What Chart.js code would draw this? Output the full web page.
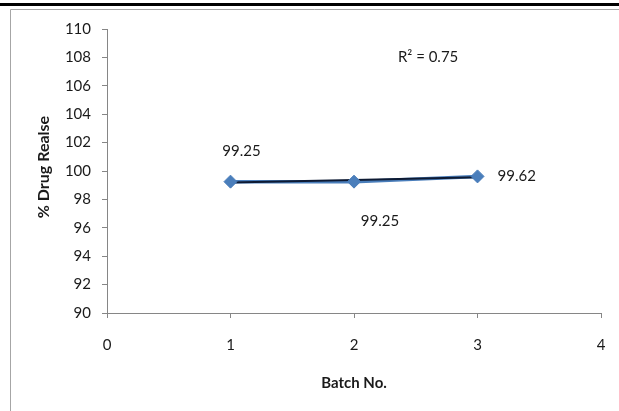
<!DOCTYPE html>
<html>
<head>
<meta charset="utf-8">
<script src="https://cdn.jsdelivr.net/npm/chart.js@4/dist/chart.umd.min.js"></script>
<style>
  html, body { margin: 0; padding: 0; background: #fff; }
  #wrap { position: relative; width: 619px; height: 411px; }
</style>
</head>
<body>
<div id="wrap"><canvas id="c" width="619" height="411"></canvas></div>
<script>
const batches = [1, 2, 3];
const releaseValues = [99.25, 99.25, 99.62];
const trendValues = [99.19, 99.37, 99.56];
const xTicks = [0, 1, 2, 3, 4];
const yTicks = [90, 92, 94, 96, 98, 100, 102, 104, 106, 108, 110];
const r2Text = 'R² = 0.75';
const xTitle = 'Batch No.';
const yTitle = '% Drug Realse';

const FONT = 'Lato, "Open Sans", sans-serif';
const pts = batches.map((b, i) => ({ x: b, y: releaseValues[i] }));
const trend = batches.map((b, i) => ({ x: b, y: trendValues[i] }));

const framePlugin = {
  id: 'frame',
  beforeDraw(chart) {
    const ctx = chart.ctx;
    ctx.save();
    ctx.fillStyle = '#fff';
    ctx.fillRect(0, 0, chart.width, chart.height);
    ctx.fillStyle = '#000';
    ctx.fillRect(0, 3, chart.width, 3);
    ctx.strokeStyle = '#a6a6a6';
    ctx.lineWidth = 1;
    ctx.beginPath();
    ctx.moveTo(10.5, chart.height);
    ctx.lineTo(10.5, 9.5);
    ctx.lineTo(chart.width, 9.5);
    ctx.stroke();
    ctx.restore();
  },
  afterDraw(chart) {
    const ctx = chart.ctx;
    const xs = chart.scales.x, ys = chart.scales.y;
    ctx.save();
    ctx.fillStyle = '#1a1a1a';
    ctx.font = '15px ' + FONT;
    ctx.textBaseline = 'middle';
    ctx.textAlign = 'center';
    ctx.fillText(releaseValues[0].toFixed(2), xs.getPixelForValue(batches[0]) + 11, ys.getPixelForValue(releaseValues[0]) - 30);
    ctx.fillText(releaseValues[1].toFixed(2), xs.getPixelForValue(batches[1]) + 26, ys.getPixelForValue(releaseValues[1]) + 40);
    ctx.textAlign = 'left';
    ctx.fillText(releaseValues[2].toFixed(2), xs.getPixelForValue(batches[2]) + 20, ys.getPixelForValue(releaseValues[2]));
    ctx.textAlign = 'center';
    ctx.fillText(r2Text, xs.getPixelForValue(2.6), ys.getPixelForValue(108));
    ctx.font = 'bold 15px ' + FONT;
    ctx.fillText(xTitle, (xs.left + xs.right) / 2, 383);
    ctx.font = 'bold 16px ' + FONT;
    ctx.translate(44, (ys.top + ys.bottom) / 2 - 4);
    ctx.rotate(-Math.PI / 2);
    ctx.fillText(yTitle, 0, 0);
    ctx.restore();
  }
};

new Chart(document.getElementById('c'), {
  type: 'scatter',
  data: {
    datasets: [
      {
        data: pts,
        showLine: false,
        pointStyle: 'rectRot',
        pointRadius: 6.5,
        pointHoverRadius: 6.5,
        backgroundColor: '#4a7ebb',
        borderColor: '#4a7ebb',
        borderWidth: 1
      },
      {
        data: trend,
        showLine: true,
        borderColor: '#0d1a33',
        borderWidth: 2,
        pointRadius: 0,
        fill: false
      },
      {
        data: pts,
        showLine: true,
        borderColor: '#4a7ebb',
        borderWidth: 3.5,
        pointRadius: 0,
        fill: false
      }
    ]
  },
  options: {
    responsive: false,
    animation: false,
    devicePixelRatio: 1,
    layout: { padding: { left: 0, right: 18, top: 29, bottom: 0 } },
    plugins: { legend: { display: false }, tooltip: { enabled: false } },
    scales: {
      x: {
        type: 'linear',
        min: 0, max: 4,
        afterBuildTicks: s => { s.ticks = xTicks.map(v => ({ value: v })); },
        afterFit: s => { s.height = 98; s.paddingRight = 4; s.paddingLeft = 4; },
        border: { display: true, color: '#868686', width: 1 },
        grid: { drawOnChartArea: false, drawTicks: true, tickLength: 5, color: '#868686' },
        ticks: { color: '#1a1a1a', font: { family: FONT, size: 15 }, padding: 18 }
      },
      y: {
        type: 'linear',
        min: 90, max: 110,
        afterBuildTicks: s => { s.ticks = yTicks.map(v => ({ value: v })); },
        afterFit: s => { s.width = 107; },
        border: { display: true, color: '#868686', width: 1 },
        grid: { drawOnChartArea: false, drawTicks: true, tickLength: 5, color: '#868686' },
        ticks: { color: '#1a1a1a', font: { family: FONT, size: 15 }, padding: 11 }
      }
    }
  },
  plugins: [framePlugin]
});
</script>
</body>
</html>
